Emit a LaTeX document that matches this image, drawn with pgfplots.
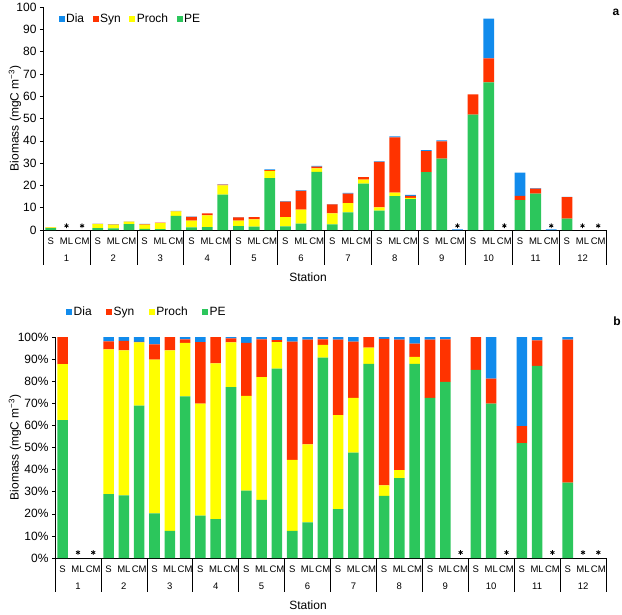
\documentclass[border=0pt]{standalone}
\usepackage{fontspec}
\setmainfont{Liberation Sans}
\usepackage{pgfplots}
\usepackage{pgfplotstable}
\pgfplotsset{compat=1.18}
\definecolor{Dia}{RGB}{17,139,236}
\definecolor{Syn}{RGB}{255,51,0}
\definecolor{Proch}{RGB}{255,255,0}
\definecolor{PE}{RGB}{44,198,92}

\pgfplotstableread{
x PE Pr Syn Dia
0 0.81 0.33 0.16 0
1 0 0 0 0
2 0 0 0 0
3 0.81 1.83 0.10 0.06
4 0.74 1.71 0.11 0.04
5 2.62 1.09 0.01 0.08
6 0.55 1.88 0.19 0.09
7 0.41 2.70 0.20 0
8 6.29 2.08 0.14 0.09
9 1.15 3.04 1.67 0.14
10 1.32 5.29 0.89 0
11 15.85 4.16 0.37 0.12
12 1.77 2.49 1.39 0.16
13 1.53 3.22 0.99 0.06
14 23.31 3.26 0.24 0.38
15 1.60 4.17 6.96 0.27
16 2.87 6.28 8.44 0.21
17 26.03 1.64 0.72 0.32
18 2.56 4.94 3.96 0.14
19 7.92 4.12 4.22 0.35
20 20.81 1.75 1.14 0
21 8.65 1.48 20.39 0.28
22 15.20 1.51 24.78 0.50
23 13.87 0.51 0.95 0.47
24 25.96 0 9.42 0.43
25 32.04 0 7.72 0.44
26 0 0 0 0.3
27 51.74 0 9.06 0
28 66.17 0 10.81 17.82
29 0 0 0 0
30 13.36 0 1.98 10.36
31 16.34 0 2.18 0.28
32 0 0 0 0.3
33 5.08 0 9.64 0.18
34 0 0 0 0
35 0 0 0 0
}\absdata

\pgfplotstableread{
x PE Pr Syn Dia
0 62.4 25.3 12.3 0
1 0 0 0 0
2 0 0 0 0
3 28.9 65.5 3.6 2.0
4 28.3 65.7 4.3 1.7
5 68.9 28.7 0.2 2.2
6 20.2 69.6 6.9 3.3
7 12.3 81.7 6.0 0
8 73.1 24.2 1.6 1.1
9 19.2 50.6 27.9 2.3
10 17.6 70.5 11.9 0
11 77.3 20.3 1.8 0.6
12 30.5 42.9 23.9 2.7
13 26.3 55.5 17.1 1.1
14 85.7 12.0 0.9 1.4
15 12.3 32.1 53.5 2.1
16 16.1 35.3 47.4 1.2
17 90.7 5.7 2.5 1.1
18 22.1 42.6 34.1 1.2
19 47.7 24.8 25.4 2.1
20 87.8 7.4 4.8 0
21 28.1 4.8 66.2 0.9
22 36.2 3.6 59.0 1.2
23 87.8 3.2 6.0 3.0
24 72.5 0 26.3 1.2
25 79.7 0 19.2 1.1
26 0 0 0 0
27 85.1 0 14.9 0
28 69.8 0 11.4 18.8
29 0 0 0 0
30 52.0 0 7.7 40.3
31 86.9 0 11.6 1.5
32 0 0 0 0
33 34.1 0 64.7 1.2
34 0 0 0 0
35 0 0 0 0
}\pctdata

\newcommand{\lblfont}{\fontsize{12}{14}\selectfont}
\newcommand{\catfont}{\fontsize{9.5}{11}\selectfont}

\pgfplotsset{
  sq/.style={legend image code/.code={\fill[##1] (0pt,-3pt) rectangle (6pt,3pt);}},
  base/.style={
    scale only axis,
    xmin=-0.5, xmax=35.5, ymin=0, ymax=100,
    ybar stacked, bar width=0.69,
    axis x line*=bottom, axis y line*=left,
    axis line style={black, line width=0.6pt},
    xtick={0,...,35},
    xticklabels={S,ML,CM,S,ML,CM,S,ML,CM,S,ML,CM,S,ML,CM,S,ML,CM,S,ML,CM,S,ML,CM,S,ML,CM,S,ML,CM,S,ML,CM,S,ML,CM},
    xtick style={draw=none},
    ytick={0,10,...,100},
    tick align=outside, major tick length=3pt,
    ytick style={black, line width=0.5pt},
    /pgf/number format/assume math mode=true,
    tick label style={font=\lblfont},
    xticklabel style={font=\catfont, yshift=-1.5pt},
    ylabel={Biomass (mgC m\textsuperscript{−3})},
    ylabel style={font=\lblfont, anchor=center},
    clip=false,
    reverse legend,
    legend style={draw=none, fill=none, font=\lblfont, legend columns=4,
      /tikz/every even column/.append style={column sep=7pt},
      nodes={inner sep=1.5pt}},
  },
  stars/.style={
    scale only axis, xmin=-0.5, xmax=35.5, ymin=0, ymax=100, hide axis, clip=false,
  }
}

\newcommand{\stations}[1]{%
  \node[font=\catfont] at (axis cs:1,0) [yshift=-#1] {1};
  \node[font=\catfont] at (axis cs:4,0) [yshift=-#1] {2};
  \node[font=\catfont] at (axis cs:7,0) [yshift=-#1] {3};
  \node[font=\catfont] at (axis cs:10,0) [yshift=-#1] {4};
  \node[font=\catfont] at (axis cs:13,0) [yshift=-#1] {5};
  \node[font=\catfont] at (axis cs:16,0) [yshift=-#1] {6};
  \node[font=\catfont] at (axis cs:19,0) [yshift=-#1] {7};
  \node[font=\catfont] at (axis cs:22,0) [yshift=-#1] {8};
  \node[font=\catfont] at (axis cs:25,0) [yshift=-#1] {9};
  \node[font=\catfont] at (axis cs:28,0) [yshift=-#1] {10};
  \node[font=\catfont] at (axis cs:31,0) [yshift=-#1] {11};
  \node[font=\catfont] at (axis cs:34,0) [yshift=-#1] {12};
}
\newcommand{\seps}[1]{%
  \pgfplotsinvokeforeach{-0.5,2.5,5.5,8.5,11.5,14.5,17.5,20.5,23.5,26.5,29.5,32.5,35.5}{%
    \draw[black, line width=0.5pt] (axis cs:##1,0) -- ++(0pt,-#1);}
}

\begin{document}
\begin{tikzpicture}
\path[use as bounding box] (-43pt,7pt) rectangle (579pt,-607pt);

% ---------------- Panel a ----------------
\begin{axis}[base, at={(0pt,0pt)}, anchor=north west, width=563pt, height=223pt,
  ylabel style={at={(axis description cs:-0.0497,0.5)}},
  legend style={at={(0.022,0.946)}, anchor=west}]
\addplot[fill=PE, draw=none, sq] table[x=x, y=PE]{\absdata};
\addlegendentry{PE}
\addplot[fill=Proch, draw=none, sq] table[x=x, y=Pr]{\absdata};
\addlegendentry{Proch}
\addplot[fill=Syn, draw=none, sq] table[x=x, y=Syn]{\absdata};
\addlegendentry{Syn}
\addplot[fill=Dia, draw=none, sq] table[x=x, y=Dia]{\absdata};
\addlegendentry{Dia}
\stations{28pt}
\seps{35pt}
\node[font=\lblfont] at (rel axis cs:0,0) [xshift=265pt, yshift=-47pt] {Station};
\node[font=\lblfont\bfseries] at (rel axis cs:1,1) [xshift=10pt, yshift=-5pt] {a};
\end{axis}
\begin{axis}[stars, at={(0pt,0pt)}, anchor=north west, width=563pt, height=223pt]
\addplot[only marks, mark=asterisk, mark size=2.3pt, black, line width=0.8pt]
  coordinates {(1,1.9) (2,1.9) (26,1.9) (29,1.9) (32,1.9) (34,1.9) (35,1.9)};
\end{axis}

% ---------------- Panel b ----------------
\begin{axis}[base, at={(12pt,-330pt)}, anchor=north west, width=551pt, height=221pt,
  ylabel style={at={(axis description cs:-0.0726,0.5)}},
  yticklabel={\pgfmathprintnumber{\tick}\%},
  legend style={at={(0.0145,1.113)}, anchor=west,
    /tikz/every even column/.append style={column sep=13pt}}]
\addplot[fill=PE, draw=none, sq] table[x=x, y=PE]{\pctdata};
\addlegendentry{PE}
\addplot[fill=Proch, draw=none, sq] table[x=x, y=Pr]{\pctdata};
\addlegendentry{Proch}
\addplot[fill=Syn, draw=none, sq] table[x=x, y=Syn]{\pctdata};
\addlegendentry{Syn}
\addplot[fill=Dia, draw=none, sq] table[x=x, y=Dia]{\pctdata};
\addlegendentry{Dia}
\stations{28pt}
\seps{34pt}
\node[font=\lblfont] at (rel axis cs:0,0) [xshift=253pt, yshift=-47pt] {Station};
\node[font=\lblfont\bfseries] at (rel axis cs:1,1) [xshift=11pt, yshift=16pt] {b};
\end{axis}
\begin{axis}[stars, at={(12pt,-330pt)}, anchor=north west, width=551pt, height=221pt]
\addplot[only marks, mark=asterisk, mark size=2.3pt, black, line width=0.8pt]
  coordinates {(1,2.5) (2,2.5) (26,2.5) (29,2.5) (32,2.5) (34,2.5) (35,2.5)};
\end{axis}
\end{tikzpicture}
\end{document}
